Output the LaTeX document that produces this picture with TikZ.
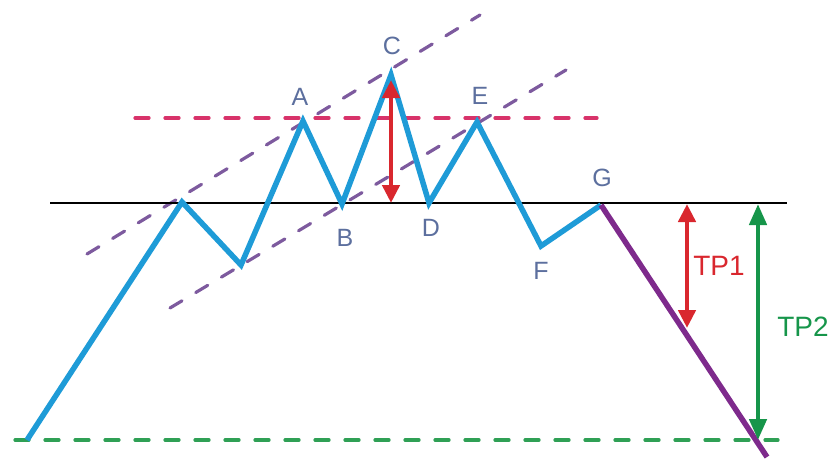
\documentclass[tikz,border=0pt]{standalone}
\usepackage{fontspec}
\setmainfont{Liberation Sans}
\usetikzlibrary{arrows.meta}
\definecolor{wave}{HTML}{1E9BD7}
\definecolor{drop}{HTML}{7E2A8C}
\definecolor{chan}{HTML}{7D5A9E}
\definecolor{tpred}{HTML}{D9272E}
\definecolor{tpgreen}{HTML}{16954A}
\definecolor{resist}{HTML}{D8336A}
\definecolor{base}{HTML}{2FA055}
\definecolor{lbl}{HTML}{5C6F9E}
\tikzset{
  wv/.style={draw=wave,line width=5.5pt,line join=miter},
  dn/.style={draw=drop,line width=5.5pt},
  neck/.style={draw=black,line width=1.8pt},
  dsh/.style={line width=3.2pt,line cap=round,dash pattern=on 14pt off 16pt},
  chl/.style={dsh,draw=chan},
  rl/.style={dsh,draw=resist},
  bl/.style={dsh,draw=base},
  pt/.style={font=\fontsize{25}{25}\selectfont,text=lbl,inner sep=0pt},
  tp/.style={font=\fontsize{28}{28}\selectfont,inner sep=0pt},
  rar/.style={{Triangle[length=18pt,width=17pt]}-{Triangle[length=18pt,width=17pt]},draw=tpred,line width=4.5pt},
  gar/.style={{Triangle[length=21pt,width=17pt]}-{Triangle[length=21pt,width=17pt]},draw=tpgreen,line width=4.5pt},
}
\begin{document}
\begin{tikzpicture}[x=1pt,y=-1pt]
\useasboundingbox (0,0) rectangle (832,461);
\coordinate (s) at (27,440);
\coordinate (h1) at (182,202);
\coordinate (l1) at (241,265);
\coordinate (A) at (303,121);
\coordinate (B) at (342,204);
\coordinate (C) at (391,75);
\coordinate (D) at (429,203);
\coordinate (E) at (477,122);
\coordinate (F) at (541,246);
\coordinate (G) at (601,205);
\coordinate (end) at (767,457);
\draw[bl] (15,440) -- (778,440);
\draw[rl] (135,118) -- (597,118);
\draw[chl] (87,254) -- (480,15);
\draw[chl] (170,308) -- (566,70);
\draw[neck] (50,203) -- (787,203);
\draw[wv] (s) -- (h1) -- (l1) -- (A) -- (B) -- (C) -- (D) -- (E) -- (F) -- (G);
\draw[dn] (G) -- (end);
\coordinate (ct) at (391,80);
\coordinate (cb) at (391,203);
\draw[rar] (ct) -- (cb);
\coordinate (t1a) at (687,204);
\coordinate (t1b) at (687,328);
\draw[rar] (t1a) -- (t1b);
\coordinate (t2a) at (758,204);
\coordinate (t2b) at (758,440);
\draw[gar] (t2a) -- (t2b);
\node[pt] (la) at (300,97) {A};
\node[pt] (lb) at (345,238) {B};
\node[pt] (lc) at (392,46) {C};
\node[pt] (ld) at (431,228) {D};
\node[pt] (le) at (480,96) {E};
\node[pt] (lf) at (541,271) {F};
\node[pt] (lg) at (602,178) {G};
\node[tp,text=tpred] (tp1) at (719,266) {TP1};
\node[tp,text=tpgreen] (tp2) at (803,327) {TP2};
\end{tikzpicture}
\end{document}
